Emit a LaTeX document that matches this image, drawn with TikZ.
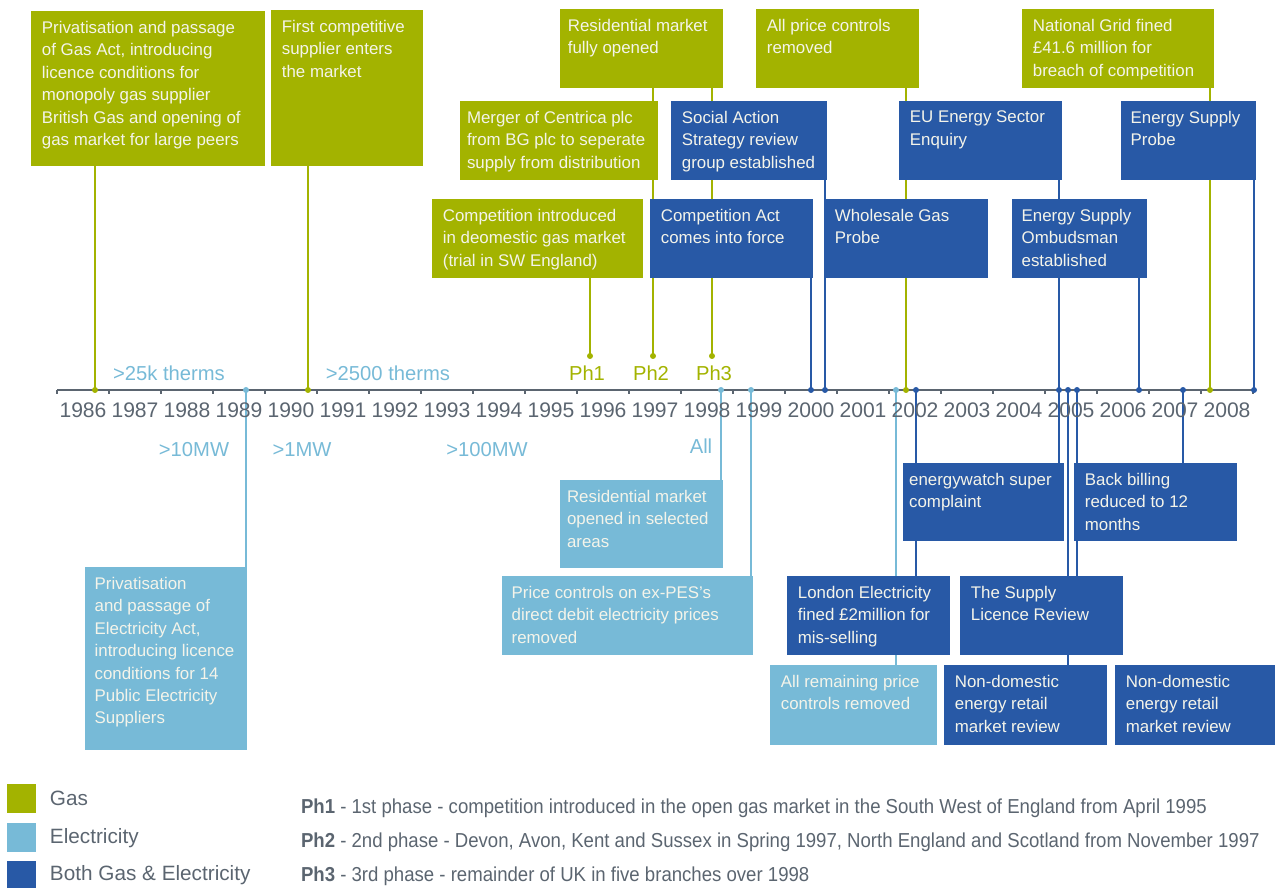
\documentclass[tikz,border=0pt]{standalone}
\usepackage{fontspec}
\setmainfont{Liberation Sans}
\newfontfamily\notefont[FakeStretch=0.92]{Liberation Sans}
\usetikzlibrary{positioning, backgrounds, calc}
\definecolor{gasgreen}{HTML}{A3B300}
\definecolor{elecblue}{HTML}{77BAD7}
\definecolor{bothblue}{HTML}{2859A6}
\definecolor{axisgrey}{HTML}{5B6570}
\definecolor{boxtext}{HTML}{F4F4EA}

\begin{document}
\begin{tikzpicture}[x=0.02cm, y=-0.02cm,
    every node/.style={inner sep=0pt, outer sep=0pt},
    sz/.style 2 args={minimum width=#1*0.02cm, minimum height=#2*0.02cm},
    box/.style={anchor=north west},
    gas/.style={box, fill=gasgreen},
    elec/.style={box, fill=elecblue},
    both/.style={box, fill=bothblue},
    txt/.style={anchor=north west, align=left, text=boxtext, inner xsep=6.2pt, inner ysep=5.6pt,
                font=\fontsize{9.6}{12.8}\selectfont},
    link/.style={line width=1.6pt},
    year/.style={font=\fontsize{12}{14}\selectfont, text=axisgrey},
    band/.style={font=\fontsize{11.5}{14}\selectfont, text=elecblue},
    phase/.style={font=\fontsize{11.5}{14}\selectfont, text=gasgreen},
    legend/.style={anchor=west, font=\fontsize{11.8}{14}\selectfont, text=axisgrey},
    note/.style={anchor=west, font=\notefont\fontsize{11.5}{13}\selectfont, text=axisgrey},
  ]
  \useasboundingbox (0,0) rectangle (1275,888);

  % gas events
  \node[gas, sz={234}{155}] (g1) at (31,11) {};
  \node[txt] (g1t) at (g1.north west) {Privatisation and passage\\of Gas Act, introducing\\licence conditions for\\monopoly gas supplier\\British Gas and opening of\\gas market for large peers};
  \node[gas, sz={152}{156}] (g2) at (271,10) {};
  \node[txt] (g2t) at (g2.north west) {First competitive\\supplier enters\\the market};
  \node[gas, sz={163}{79}] (g3) at (560,9) {};
  \node[txt, inner xsep=4.5pt] (g3t) at (g3.north west) {Residential market\\fully opened};
  \node[gas, sz={198}{79}] (g4) at (460,101) {};
  \node[txt, inner xsep=4pt] (g4t) at (g4.north west) {Merger of Centrica plc\\from BG plc to seperate\\supply from distribution};
  \node[gas, sz={211}{79}] (g5) at (432,199) {};
  \node[txt] (g5t) at (g5.north west) {Competition introduced\\in deomestic gas market\\(trial in SW England)};
  \node[gas, sz={163}{79}] (g6) at (756,9) {};
  \node[txt] (g6t) at (g6.north west) {All price controls\\removed};
  \node[gas, sz={192}{79}] (g7) at (1022,9) {};
  \node[txt] (g7t) at (g7.north west) {National Grid fined\\£41.6 million for\\breach of competition};

  % gas and electricity events
  \node[both, sz={156}{79}] (b1) at (671,101) {};
  \node[txt] (b1t) at (b1.north west) {Social Action\\Strategy review\\group established};
  \node[both, sz={163}{79}] (b2) at (650,199) {};
  \node[txt] (b2t) at (b2.north west) {Competition Act\\comes into force};
  \node[both, sz={164}{79}] (b3) at (824,199) {};
  \node[txt] (b3t) at (b3.north west) {Wholesale Gas\\Probe};
  \node[both, sz={163}{79}] (b4) at (899,101) {};
  \node[txt] (b4t) at (b4.north west) {EU Energy Sector\\Enquiry};
  \node[both, sz={135}{79}] (b5) at (1012,199) {};
  \node[txt, inner xsep=5.5pt] (b5t) at (b5.north west) {Energy Supply\\Ombudsman\\established};
  \node[both, sz={135}{79}] (b6) at (1121,101) {};
  \node[txt, inner xsep=5.5pt] (b6t) at (b6.north west) {Energy Supply\\Probe};
  \node[both, sz={161}{78}] (b7) at (903,463) {};
  \node[txt, inner xsep=3.5pt] (b7t) at (b7.north west) {energywatch super\\complaint};
  \node[both, sz={163}{78}] (b8) at (1074,463) {};
  \node[txt] (b8t) at (b8.north west) {Back billing\\reduced to 12\\months};
  \node[both, sz={163}{79}] (b9) at (787,576) {};
  \node[txt] (b9t) at (b9.north west) {London Electricity\\fined £2million for\\mis-selling};
  \node[both, sz={163}{79}] (b10) at (960,576) {};
  \node[txt] (b10t) at (b10.north west) {The Supply\\Licence Review};
  \node[both, sz={163}{80}] (b11) at (944,665) {};
  \node[txt] (b11t) at (b11.north west) {Non-domestic\\energy retail\\market review};
  \node[both, sz={160}{80}] (b12) at (1115,665) {};
  \node[txt] (b12t) at (b12.north west) {Non-domestic\\energy retail\\market review};

  % electricity events
  \node[elec, sz={162}{183}] (e1) at (85,567) {};
  \node[txt, inner xsep=5.5pt] (e1t) at (e1.north west) {Privatisation\\and passage of\\Electricity Act,\\introducing licence\\conditions for 14\\Public Electricity\\Suppliers};
  \node[elec, sz={163}{88}] (e2) at (560,480) {};
  \node[txt, inner xsep=4pt] (e2t) at (e2.north west) {Residential market\\opened in selected\\areas};
  \node[elec, sz={251}{79}] (e3) at (502,576) {};
  \node[txt, inner xsep=5.5pt] (e3t) at (e3.north west) {Price controls on ex-PES's\\direct debit electricity prices\\removed};
  \node[elec, sz={167}{80}] (e4) at (770,665) {};
  \node[txt] (e4t) at (e4.north west) {All remaining price\\controls removed};

  % axis points
  \foreach \x in {95,246,308,721,751,811,825,896,906,916,1059,1068,1077,1139,1183,1210,1254}
    \coordinate (a\x) at (\x,390);
  \coordinate (p1) at (590,356);
  \coordinate (p2) at (653,356);
  \coordinate (p3) at (712,356);

  \begin{scope}[on background layer]
    \draw[link, gasgreen] (g1.south -| a95) -- (a95);
    \draw[link, gasgreen] (g2.south -| a308) -- (a308);
    \draw[link, gasgreen] (g5.south -| p1) -- (p1);
    \draw[link, gasgreen] (g3.south -| p2) -- (g4.north -| p2);
    \draw[link, gasgreen] (g4.south -| p2) -- (p2);
    \draw[link, gasgreen] (g3.south -| p3) -- (p3);
    \draw[link, gasgreen] (g6.south -| a906) -- (a906);
    \draw[link, gasgreen] (g7.south -| a1210) -- (a1210);
    \draw[link, bothblue] (b2.south -| a811) -- (a811);
    \draw[link, bothblue] (b1.south -| a825) -- (a825);
    \draw[link, bothblue] (b4.south -| a1059) -- (a1059);
    \draw[link, bothblue] (b5.south -| a1139) -- (a1139);
    \draw[link, bothblue] (b6.south -| a1254) -- (a1254);
    \draw[link, bothblue] (a916) -- (b9.north -| a916);
    \draw[link, bothblue] (a1059) -- (b7.north -| a1059);
    \draw[link, bothblue] (a1068) -- (b11.north -| a1068);
    \draw[link, bothblue] (a1077) -- (b10.north -| a1077);
    \draw[link, bothblue] (a1183) -- (b8.north -| a1183);
    \draw[link, elecblue] (a246) -- (e1.north -| a246);
    \draw[link, elecblue] (a721) -- (e2.north -| a721);
    \draw[link, elecblue] (a751) -- (e3.north -| a751);
    \draw[link, elecblue] (a896) -- (e4.north -| a896);
  \end{scope}

  % time axis
  \draw[axisgrey, line width=1.2pt] (57,390) -- (1254,390);
  \foreach \i in {0,...,23}
    \draw[axisgrey, line width=1pt] (57+52*\i,390) -- ++(0,4);
  \foreach \yr [count=\i from 0] in {1986,...,2008}
    \node[year] (y\yr) at (83+52*\i,410) {\yr};

  \foreach \c/\col in {a95/gasgreen, a308/gasgreen, a906/gasgreen, a1210/gasgreen,
      p1/gasgreen, p2/gasgreen, p3/gasgreen,
      a246/elecblue, a721/elecblue, a751/elecblue, a896/elecblue,
      a811/bothblue, a825/bothblue, a916/bothblue, a1059/bothblue, a1068/bothblue,
      a1077/bothblue, a1139/bothblue, a1183/bothblue, a1254/bothblue}
    \fill[\col] (\c) circle (3);

  % thresholds and phases
  \node[band] (t1) at (169,373) {>25k therms};
  \node[band] (t2) at (388,373) {>2500 therms};
  \node[band] (t3) at (194,450) {>10MW};
  \node[band] (t4) at (302,450) {>1MW};
  \node[band] (t5) at (487,450) {>100MW};
  \node[band] (t6) at (701,446) {All};
  \node[phase] (ph1) at (587,373) {Ph1};
  \node[phase] (ph2) at (651,373) {Ph2};
  \node[phase] (ph3) at (714,373) {Ph3};

  % legend
  \fill[gasgreen] (7,784) rectangle (36,813);
  \fill[elecblue] (7,823) rectangle (36,852);
  \fill[bothblue] (7,861) rectangle (36,888);
  \node[legend] (lg) at (50,798) {Gas};
  \node[legend] (le) at (50,838) {Electricity};
  \node[legend] (lb) at (50,875) {Both Gas \& Electricity};
  \node[note] (n1) at (301,808) {\textbf{Ph1} - 1st phase - competition introduced in the open gas market in the South West of England from April 1995};
  \node[note] (n2) at (301,842) {\textbf{Ph2} - 2nd phase - Devon, Avon, Kent and Sussex in Spring 1997, North England and Scotland from November 1997};
  \node[note] (n3) at (301,876) {\textbf{Ph3} - 3rd phase - remainder of UK in five branches over 1998};
\end{tikzpicture}
\end{document}
